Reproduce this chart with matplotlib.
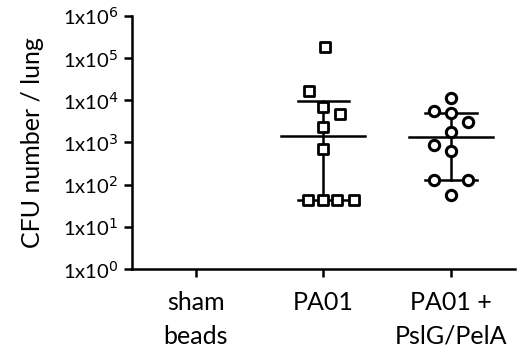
import matplotlib
matplotlib.use("Agg")
import matplotlib.pyplot as plt
import numpy as np

plt.rcParams['font.family'] = ['Lato', 'DejaVu Sans']

categories = ["sham\nbeads", "PA01", "PA01 +\nPslG/PelA"]

# PA01 values (squares)
pa01_values = [185000, 16500, 6800, 4600, 2300, 690, 43, 43, 43, 43]
pa01_x_offsets = [0.01, -0.11, 0.0, 0.13, 0.0, 0.0, -0.12, -0.0, 0.11, 0.24]
# PA01 + PslG/PelA values (circles)
pslg_values = [11000, 5600, 4900, 3100, 1800, 870, 635, 129, 129, 56]
pslg_x_offsets = [0.0, -0.13, 0.0, 0.13, 0.0, -0.13, 0.0, -0.13, 0.13, 0.0]

medians = [1440, 1365]
q1 = [43, 129]
q3 = [9500, 4900]

yticks = [1e0, 1e1, 1e2, 1e3, 1e4, 1e5, 1e6]
ytick_labels = ["1x10$^{0}$", "1x10$^{1}$", "1x10$^{2}$", "1x10$^{3}$",
                "1x10$^{4}$", "1x10$^{5}$", "1x10$^{6}$"]

fig = plt.figure(figsize=(5.19, 3.48), dpi=100)
ax = fig.add_axes([0.254, 0.227, 0.738, 0.728])

ax.set_yscale('log')
ax.set_ylim(1, 1e6)
ax.set_xlim(-0.5, 2.5)

lw = 1.8
# medians and error bars
for i, (m, lo, hi) in enumerate(zip(medians, q1, q3)):
    x = i + 1
    ax.plot([x - 0.33, x + 0.33], [m, m], color='black', lw=lw, zorder=3)
    ax.plot([x, x], [lo, hi], color='black', lw=lw, zorder=3)
    ax.plot([x - 0.2, x + 0.2], [lo, lo], color='black', lw=lw, zorder=3)
    ax.plot([x - 0.2, x + 0.2], [hi, hi], color='black', lw=lw, zorder=3)

ax.scatter(np.array(pa01_x_offsets) + 1, pa01_values, marker='s', s=55,
           facecolors='white', edgecolors='black', linewidths=2.0, zorder=4)
ax.scatter(np.array(pslg_x_offsets) + 2, pslg_values, marker='o', s=55,
           facecolors='white', edgecolors='black', linewidths=2.2, zorder=4)

ax.set_yticks(yticks)
ax.set_yticklabels(ytick_labels, fontsize=14.5)
ax.yaxis.set_minor_locator(matplotlib.ticker.NullLocator())
ax.set_xticks([0, 1, 2])
ax.set_xticklabels(categories, fontsize=18, linespacing=1.55)
ax.set_ylabel("CFU number / lung", fontsize=18, labelpad=13)

for s in ['top', 'right']:
    ax.spines[s].set_visible(False)
for s in ['left', 'bottom']:
    ax.spines[s].set_linewidth(1.8)
ax.tick_params(axis='both', width=1.8, length=6, pad=4)
ax.tick_params(axis='x', pad=10)

fig.savefig("out.png", dpi=100)
